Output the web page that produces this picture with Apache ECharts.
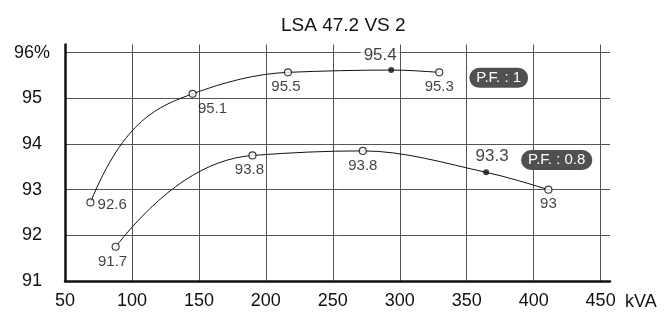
<!DOCTYPE html>
<html>
<head>
<meta charset="utf-8">
<script src="https://cdn.jsdelivr.net/npm/echarts@6/dist/echarts.min.js"></script>
<style>
html,body{margin:0;padding:0;background:#fff;}
#main{width:664px;height:313px;}
</style>
</head>
<body>
<div id="main"></div>
<script>
// P.F. 1 curve
var pf1Kva = [69, 145.3, 216.5, 293.6, 329.5];
var pf1Eff = [92.72, 95.1, 95.57, 95.62, 95.57];
var pf1Text = ['92.6', '95.1', '95.5', '95.4', '95.3'];
var pf1Filled = [false, false, false, true, false];

// P.F. 0.8 curve
var pf08Kva = [87.8, 190, 272.4, 364.5, 411];
var pf08Eff = [91.75, 93.75, 93.85, 93.38, 93.0];
var pf08Text = ['91.7', '93.8', '93.8', '93.3', '93'];
var pf08Filled = [false, false, false, true, false];

var xTicks = [50, 100, 150, 200, 250, 300, 350, 400, 450];
var yTicks = [91, 92, 93, 94, 95, 96];

// label placement for each point (layout only)
var pf1Lbl = [
	{position: 'right', distance: 3, offset: [0, 2]},
	{position: 'bottom', distance: 3, offset: [20, 0]},
	{position: 'bottom', distance: 3, offset: [-2, 0]},
	{position: 'top', distance: 3, offset: [-11, 0], size: 17, backgroundColor: '#fff', padding: [0, 3]},
	{position: 'bottom', distance: 3, offset: [0, 0]}
];
var pf08Lbl = [
	{position: 'bottom', distance: 4, offset: [-3, 0]},
	{position: 'bottom', distance: 3, offset: [-3, 0]},
	{position: 'bottom', distance: 3, offset: [0, 0]},
	{position: 'top', distance: 5, offset: [6, 0], size: 17},
	{position: 'bottom', distance: 3, offset: [0, 0]}
];

var FONT = '"Liberation Sans", Arial, sans-serif';

// monotone cubic tangents; "bend" makes the first segment rise more steeply
function slopes(xs, ys, bend){
	var n = xs.length, h = [], d = [], m = [];
	for (var i = 0; i < n - 1; i++) {
		h.push(xs[i + 1] - xs[i]);
		d.push((ys[i + 1] - ys[i]) / h[i]);
	}
	for (var i = 1; i < n - 1; i++) {
		if (d[i - 1] * d[i] <= 0) { m[i] = 0; continue; }
		var w1 = 2 * h[i] + h[i - 1], w2 = h[i] + 2 * h[i - 1];
		m[i] = (w1 + w2) / (w1 / d[i - 1] + w2 / d[i]);
	}
	function end(h0, h1, d0, d1){
		var v = ((2 * h0 + h1) * d0 - h0 * d1) / (h0 + h1);
		if (v * d0 <= 0) return 0;
		if (d0 * d1 < 0 && Math.abs(v) > Math.abs(3 * d0)) return 3 * d0;
		return v;
	}
	var m0 = end(h[0], h[1], d[0], d[1]);
	m[0] = (1 - bend) * m0 + bend * (3 * d[0] - 2 * m[1]);
	m[n - 1] = end(h[n - 2], h[n - 3], d[n - 2], d[n - 3]);
	return m;
}

function curveSeries(xs, ys, bend){
	var m = slopes(xs, ys, bend);
	return {
		type: 'custom',
		silent: true,
		z: 2,
		data: [[xs[0], ys[0]]],
		renderItem: function(params, api){
			var p = api.coord([xs[0], ys[0]]);
			var path = 'M' + p[0] + ' ' + p[1];
			for (var i = 0; i < xs.length - 1; i++) {
				var h = xs[i + 1] - xs[i];
				var c1 = api.coord([xs[i] + h / 3, ys[i] + m[i] * h / 3]);
				var c2 = api.coord([xs[i + 1] - h / 3, ys[i + 1] - m[i + 1] * h / 3]);
				var e = api.coord([xs[i + 1], ys[i + 1]]);
				path += ' C' + c1[0] + ' ' + c1[1] + ' ' + c2[0] + ' ' + c2[1] + ' ' + e[0] + ' ' + e[1];
			}
			return {
				type: 'path',
				shape: {pathData: path},
				style: {fill: null, stroke: '#111', lineWidth: 1}
			};
		}
	};
}

function pointData(xs, ys, texts, filled, lbl){
	var out = [];
	for (var i = 0; i < xs.length; i++) {
		var l = lbl[i];
		out.push({
			value: [xs[i], ys[i]],
			symbolSize: filled[i] ? 6 : 7,
			itemStyle: {
				color: filled[i] ? '#111' : '#fff',
				borderColor: '#111',
				borderWidth: filled[i] ? 0 : 1.2
			},
			label: {
				show: true,
				formatter: texts[i],
				position: l.position,
				distance: l.distance,
				offset: l.offset,
				fontSize: l.size || 15,
				backgroundColor: l.backgroundColor || 'transparent',
				padding: l.padding || 0
			}
		});
	}
	return out;
}

function badge(text, coord){
	return {
		symbol: 'circle',
		symbolSize: 0,
		silent: true,
		label: {
			show: true,
			position: 'inside',
			formatter: text,
			color: '#fff',
			fontSize: 15,
			fontFamily: FONT,
			backgroundColor: '#505050',
			borderRadius: 10,
			padding: [3, 7, 2, 7]
		},
		data: [{coord: coord}]
	};
}

var myChart = echarts.init(document.getElementById('main'));
var option = {
	backgroundColor: '#fff',
	animation: false,
	title: {
		text: 'LSA 47.2 VS 2',
		left: 276,
		top: 11,
		textStyle: {
			fontFamily: FONT,
			fontSize: 19,
			fontWeight: 'normal',
			color: '#111'
		}
	},
	grid: {
		left: 65,
		right: 54,
		top: 44.5,
		bottom: 32
	},
	xAxis: {
		type: 'value',
		min: 50,
		max: 457,
		interval: 50,
		name: 'kVA',
		nameLocation: 'end',
		nameGap: 15,
		nameTextStyle: {
			fontFamily: FONT,
			fontSize: 18,
			color: '#111',
			verticalAlign: 'top',
			padding: [12, 0, 0, 0]
		},
		axisLine: {lineStyle: {color: '#111', width: 2.5}},
		axisTick: {show: false},
		axisLabel: {
			margin: 11,
			fontFamily: FONT,
			fontSize: 18,
			color: '#111',
			showMaxLabel: false,
			formatter: function(v){ return xTicks.indexOf(v) >= 0 ? String(v) : ''; }
		},
		splitLine: {
			show: true,
			showMinLine: false,
			showMaxLine: false,
			lineStyle: {color: '#555', width: 1}
		}
	},
	yAxis: {
		type: 'value',
		min: 91,
		max: 96.18,
		interval: 1,
		axisLine: {show: true, lineStyle: {color: '#111', width: 2.5}},
		axisTick: {show: false},
		axisLabel: {
			margin: 33,
			align: 'center',
			fontFamily: FONT,
			fontSize: 18,
			color: '#111',
			showMaxLabel: false,
			formatter: function(v){
				if (yTicks.indexOf(v) < 0) return '';
				return v === 96 ? '96%' : String(v);
			}
		},
		splitLine: {
			show: true,
			showMinLine: false,
			showMaxLine: false,
			lineStyle: {color: '#555', width: 1}
		}
	},
	series: [
		curveSeries(pf1Kva, pf1Eff, 1),
		curveSeries(pf08Kva, pf08Eff, 0.3),
		{
			name: 'P.F. : 1',
			type: 'scatter',
			symbol: 'circle',
			label: {fontFamily: FONT, fontSize: 15, color: '#111'},
			data: pointData(pf1Kva, pf1Eff, pf1Text, pf1Filled, pf1Lbl),
			markPoint: badge('P.F. : 1', [373.9, 95.45]),
			z: 5
		}, {
			name: 'P.F. : 0.8',
			type: 'scatter',
			symbol: 'circle',
			label: {fontFamily: FONT, fontSize: 15, color: '#111'},
			data: pointData(pf08Kva, pf08Eff, pf08Text, pf08Filled, pf08Lbl),
			markPoint: badge('P.F. : 0.8', [417.2, 93.65]),
			z: 5
		}
	]
};
myChart.setOption(option);
</script>
</body>
</html>
